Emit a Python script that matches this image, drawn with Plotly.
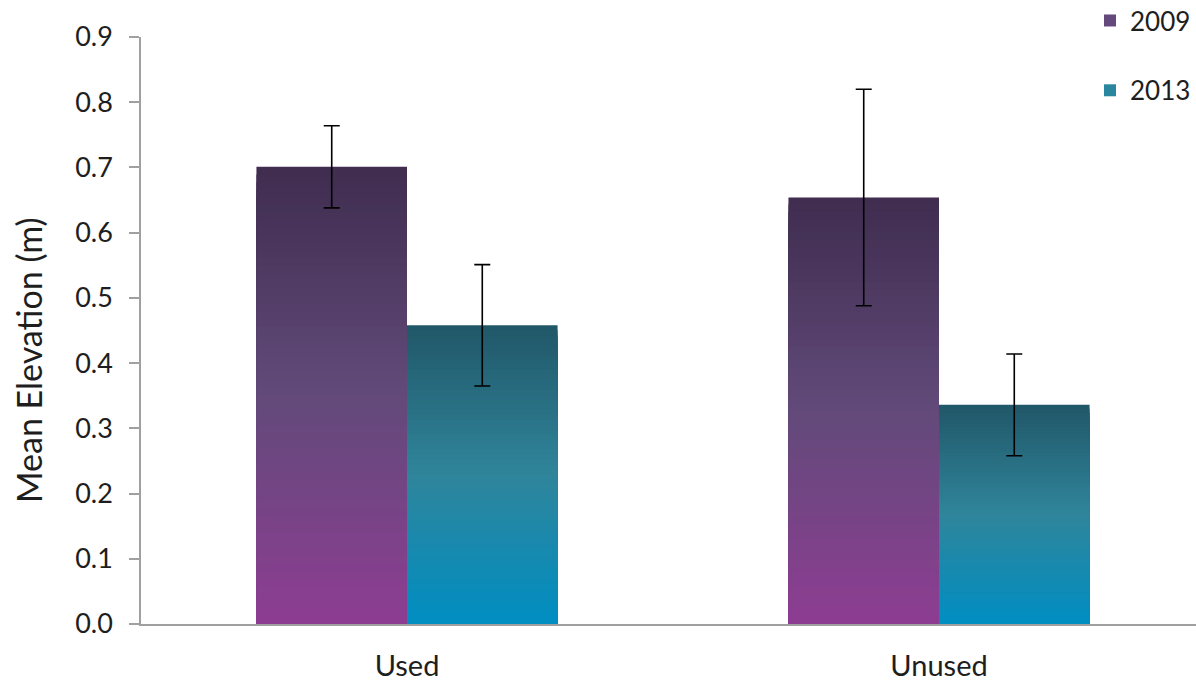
import plotly.graph_objects as go

categories = ["Used", "Unused"]
series_names = ["2009", "2013"]
values_2009 = [0.701, 0.654]
values_2013 = [0.458, 0.336]
err_2009 = [0.063, 0.166]
err_2013 = [0.093, 0.078]
y_ticks = [0.0, 0.1, 0.2, 0.3, 0.4, 0.5, 0.6, 0.7, 0.8, 0.9]
y_tick_labels = ["0.0", "0.1", "0.2", "0.3", "0.4", "0.5", "0.6", "0.7", "0.8", "0.9"]

# gradient stops: (fraction from bottom, rgb)
grad_2009 = [(0.0, (141, 61, 146)), (0.5, (98, 74, 122)), (1.0, (63, 45, 79))]
grad_2013 = [(0.0, (0, 142, 194)), (0.5, (47, 133, 155)), (1.0, (33, 87, 104))]

FONT = "Lato, 'Open Sans', 'DejaVu Sans', sans-serif"
TXT = "#1e1e1e"
N = 60

FIG_W, FIG_H = 1196, 689
L, R, T, B = 141, 0, 37, 65
PW, PH = FIG_W - L - R, FIG_H - T - B


def grad_color(stops, f):
    for (f0, c0), (f1, c1) in zip(stops[:-1], stops[1:]):
        if f0 <= f <= f1:
            t = (f - f0) / (f1 - f0)
            c = [round(a + (b - a) * t) for a, b in zip(c0, c1)]
            return "rgb(%d,%d,%d)" % tuple(c)
    return "rgb(%d,%d,%d)" % stops[-1][1]


fig = go.Figure()

for name, vals, errs, stops in [
    ("2009", values_2009, err_2009, grad_2009),
    ("2013", values_2013, err_2013, grad_2013),
]:
    # gradient built from overlapping bars, tallest first
    for k in range(N):
        frac = (N - k) / N
        fig.add_trace(go.Bar(
            x=categories,
            y=[v * frac for v in vals],
            base=0,
            offsetgroup=name,
            marker=dict(color=grad_color(stops, frac - 0.5 / N), line=dict(width=0)),
            showlegend=False,
            legendgroup=name,
            hoverinfo="skip",
        ))
    # legend entry
    fig.add_trace(go.Bar(
        x=[None], y=[None], name=name, offsetgroup=name, legendgroup=name,
        marker=dict(color=grad_color(stops, 0.45), line=dict(width=0)),
        showlegend=True,
    ))
    # error bars
    fig.add_trace(go.Bar(
        x=categories, y=vals, offsetgroup=name, name=name,
        marker=dict(color="rgba(0,0,0,0)", line=dict(width=0)),
        error_y=dict(type="data", array=errs, visible=True, color="black",
                     thickness=1.6, width=8),
        showlegend=False, legendgroup=name,
    ))

fig.update_layout(
    width=FIG_W, height=FIG_H,
    margin=dict(l=L, r=R, t=T, b=B, autoexpand=False),
    paper_bgcolor="white", plot_bgcolor="white",
    barmode="group", bargap=0.434, bargroupgap=0,
    font=dict(family=FONT, size=27, color=TXT),
    showlegend=True,
    legend=dict(
        x=1.0, xanchor="right", y=1.068, yanchor="top",
        traceorder="grouped", tracegroupgap=33,
        font=dict(family=FONT, size=26, color=TXT),
        bgcolor="rgba(0,0,0,0)", itemwidth=30,
    ),
    xaxis=dict(
        range=[-0.5, 1.5], showline=True, linecolor="#a0a0a0", linewidth=1.5,
        showgrid=False, zeroline=False, ticks="", ticklabelstandoff=15,
        tickfont=dict(family=FONT, size=29, color=TXT),
    ),
    yaxis=dict(
        range=[0, 0.9], tickvals=y_ticks, ticktext=y_tick_labels,
        showline=True, linecolor="#a0a0a0", linewidth=1.5,
        ticks="outside", ticklen=10, tickcolor="#a0a0a0", tickwidth=1.5,
        showgrid=False, zeroline=False, ticklabelstandoff=11,
        tickfont=dict(family=FONT, size=27, color=TXT),
    ),
    annotations=[dict(
        text="Mean Elevation (m)", textangle=-90, xref="paper", yref="paper",
        x=(28 - L) / PW, y=(T + PH - 360) / PH, showarrow=False,
        xanchor="center", yanchor="middle",
        font=dict(family=FONT, size=34, color=TXT),
    )],
)

fig.update_xaxes(range=[-0.5, -0.5 + PW / 532])

fig.write_html("out.html", config={"displayModeBar": False},
               post_script="document.body.style.margin='0px';")
